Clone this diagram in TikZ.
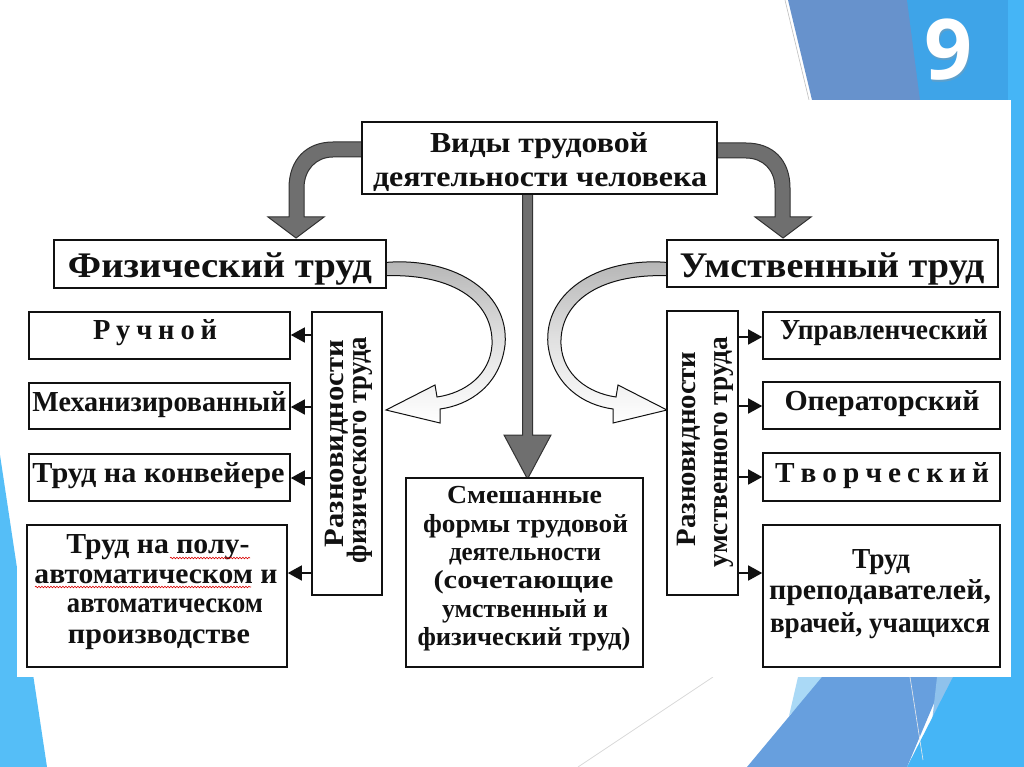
\documentclass[tikz,border=0pt]{standalone}
\usepackage{fontspec}
\setmainfont{Liberation Serif}
\newfontfamily\ninefont{Open Sans}
\usetikzlibrary{arrows.meta,decorations.pathmorphing}
\newcommand\W[2]{\resizebox{#1pt}{\height}{#2}}
\definecolor{dkblue}{HTML}{6792CC}
\definecolor{mdblue}{HTML}{3EA4E8}
\definecolor{cyanb}{HTML}{45B5F6}
\definecolor{slblue}{HTML}{55BEF7}
\definecolor{btblue}{HTML}{679FDE}
\definecolor{paleb}{HTML}{AAD9F6}
\definecolor{garrow}{HTML}{6F6F6F}
\definecolor{ink}{HTML}{111111}
\begin{document}
\begin{tikzpicture}[x=1pt,y=-1pt,
  box/.style={draw=ink, line width=1.6pt, fill=white, inner sep=0pt},
  txt/.style={inner sep=0pt, anchor=base, text=ink, font=\bfseries},
  t29/.style={txt, font=\bfseries\fontsize{29}{34}\selectfont},
  t36/.style={txt, font=\bfseries\fontsize{36}{40}\selectfont},
  t26/.style={txt, font=\bfseries\fontsize{26}{30}\selectfont},
  t28/.style={txt, font=\bfseries\fontsize{28}{32}\selectfont},
  sarr/.style={draw=ink, line width=1.5pt, -{Triangle[length=14pt,width=15pt]}},
  bigarrow/.style={fill=garrow, draw=black!80, line width=1pt},
  hollow/.style={draw=ink, line width=1pt, top color=black!30, bottom color=white, middle color=black!12},
  squig/.style={draw=red!85!black, line width=0.6pt, decorate, decoration={snake, amplitude=0.8pt, segment length=3pt}}
]
% background and slide decorations
\fill[white] (0,0) rectangle (1024,767);
\useasboundingbox (0,0) rectangle (1024,767);
\fill[dkblue] (788,0) -- (1024,0) -- (1024,100) -- (812,100) -- cycle;
\fill[mdblue] (907,0) -- (1024,0) -- (1024,100) -- (920,100) -- cycle;
\fill[cyanb] (1008,0) -- (1024,0) -- (1024,767) -- (1008,767) -- cycle;
\draw[black!25, line width=0.6pt] (785,0) -- (809,100);
\fill[slblue] (0,455) -- (47,767) -- (0,767) -- cycle;
\fill[paleb] (798,677) -- (826,677) -- (789,716) -- cycle;
\fill[btblue] (822,677) -- (945,677) -- (907,767) -- (747,767) -- cycle;
\fill[paleb!60!btblue] (937,677) -- (955,677) -- (932,722) -- cycle;
\fill[cyanb] (953,677) -- (1024,677) -- (1024,767) -- (907,767) -- cycle;
\draw[black!15, line width=0.8pt] (713,677) -- (578,767);
\draw[black!8, line width=0.6pt] (910,677) -- (923,760);
% inserted diagram area
\fill[white] (17,100) rectangle (1011,677);
% slide number
\node[inner sep=0pt, anchor=base, text=black!40, opacity=0.35, font=\ninefont\bfseries\fontsize{84}{84}\selectfont] (nineshadow) at (949.5,81.5) {9};
\node[inner sep=0pt, anchor=base, text=white, font=\ninefont\bfseries\fontsize{84}{84}\selectfont] (nine) at (948,80) {9};

% big gray arrows
\draw[bigarrow] (366,142) -- (333,142) .. controls (306,142) and (289,160) .. (289,188) -- (289,217) -- (268,217) -- (296,238) -- (324,217) -- (304,217) -- (304,188) .. controls (304,170) and (316,157) .. (333,157) -- (366,157) -- cycle;
\draw[bigarrow] (713,143) -- (746,143) .. controls (773,143) and (790,160) .. (790,188) -- (790,217) -- (811,217) -- (783,238) -- (755,217) -- (775,217) -- (775,188) .. controls (775,170) and (763,158) .. (746,158) -- (713,158) -- cycle;
\draw[bigarrow] (522.5,190) -- (532.5,190) -- (532.5,435) -- (551,435) -- (527.5,479) -- (504,435) -- (522.5,435) -- cycle;

% hollow curved arrows
\draw[hollow] (380,263) .. controls (450,255) and (510,290) .. (505,345) .. controls (500,385) and (470,405) .. (440,409) -- (440,423) -- (386,410) -- (435,385) -- (437,397) .. controls (465,393) and (490,375) .. (492,345) .. controls (494,300) and (450,272) .. (380,276) -- cycle;
\draw[hollow] (673,263) .. controls (603,255) and (543,290) .. (548,345) .. controls (553,385) and (583,405) .. (613,409) -- (613,423) -- (667,410) -- (618,385) -- (616,397) .. controls (588,393) and (563,375) .. (561,345) .. controls (559,300) and (603,272) .. (673,276) -- cycle;

% boxes
\node[box, minimum width=355pt, minimum height=72pt] (top) at (539.5,158) {};
\node[box, minimum width=332pt, minimum height=48pt] (phys) at (220,264) {};
\node[box, minimum width=331pt, minimum height=47pt] (ment) at (832.5,263.5) {};
\node[box, minimum width=70pt, minimum height=283pt] (vphys) at (347,453.5) {};
\node[box, minimum width=71pt, minimum height=284pt] (vment) at (702.5,453) {};
\node[box, minimum width=261pt, minimum height=47pt] (l1) at (159.5,335.5) {};
\node[box, minimum width=261pt, minimum height=46pt] (l2) at (159.5,406) {};
\node[box, minimum width=261pt, minimum height=47pt] (l3) at (159.5,477.5) {};
\node[box, minimum width=260pt, minimum height=142pt] (l4) at (157,596) {};
\node[box, minimum width=237pt, minimum height=47pt] (r1) at (881.5,335.5) {};
\node[box, minimum width=237pt, minimum height=47pt] (r2) at (881.5,405.5) {};
\node[box, minimum width=237pt, minimum height=48pt] (r3) at (881.5,477) {};
\node[box, minimum width=237pt, minimum height=142pt] (r4) at (881.5,596) {};
\node[box, minimum width=237pt, minimum height=189pt] (mix) at (524.5,572.5) {};

% small arrows
\coordinate (ya1) at (0,335);
\coordinate (ya2) at (0,407);
\coordinate (ya3) at (0,478);
\coordinate (ya4) at (0,573);
\coordinate (yb1) at (0,337);
\coordinate (yb2) at (0,406);
\coordinate (yb3) at (0,477);
\coordinate (yb4) at (0,573);
\draw[sarr] (vphys.west |- ya1) -- (l1.east |- ya1);
\draw[sarr] (vphys.west |- ya2) -- (l2.east |- ya2);
\draw[sarr] (vphys.west |- ya3) -- (l3.east |- ya3);
\draw[sarr] (vphys.west |- ya4) -- (l4.east |- ya4);
\draw[sarr] (vment.east |- yb1) -- (r1.west |- yb1);
\draw[sarr] (vment.east |- yb2) -- (r2.west |- yb2);
\draw[sarr] (vment.east |- yb3) -- (r3.west |- yb3);
\draw[sarr] (vment.east |- yb4) -- (r4.west |- yb4);

% texts
\node[t29] (tTop1) at (539,153) {\W{218}{Виды трудовой}};
\node[t29] (tTop2) at (540,187) {\W{334}{деятельности человека}};
\node[t36] (tPhys) at (220,277) {\W{304}{Физический труд}};
\node[t36] (tMent) at (832,277) {\W{305}{Умственный труд}};

\node[t29] (tl1) at (155,339) {\W{124}{Р\kern6ptу\kern6ptч\kern6ptн\kern6ptо\kern6ptй}};
\node[t29] (tl2) at (159.5,411) {\W{254}{Механизированный}};
\node[t29] (tl3) at (158.5,482) {\W{252}{Труд на конвейере}};
\node[t29] (tl4a) at (158,553) {\W{183}{Труд на полу-}};
\node[t29] (tl4b) at (156,583) {\W{243}{автоматическом и}};
\node[t29] (tl4c) at (165,612) {\W{196}{автоматическом}};
\node[t29] (tl4d) at (159,643) {\W{182}{производстве}};
\draw[squig] (170,558) -- (250,558);
\draw[squig] (35,587) -- (251,587);

\node[t29] (tr1) at (884,339) {\W{208}{Управленческий}};
\node[t29] (tr2) at (882,410) {\W{195}{Операторский}};
\node[t29] (tr3) at (882,482) {\W{214}{Т\kern6ptв\kern6ptо\kern6ptр\kern6ptч\kern6ptе\kern6ptс\kern6ptк\kern6ptи\kern6ptй}};
\node[t29] (tr4a) at (881,568) {\W{58}{Труд}};
\node[t29] (tr4b) at (880,599) {\W{222}{преподавателей,}};
\node[t29] (tr4c) at (880,632) {\W{220}{врачей, учащихся}};

\node[t26] (tm1) at (524.5,503) {\W{155}{Смешанные}};
\node[t26] (tm2) at (525.5,532) {\W{205}{формы трудовой}};
\node[t26] (tm3) at (525,560) {\W{152}{деятельности}};
\node[t26] (tm4) at (523.5,588) {\W{180}{(сочетающие}};
\node[t26] (tm5) at (525,617) {\W{166}{умственный и}};
\node[t26] (tm6) at (524,645) {\W{213}{физический труд)}};

\node[t28, rotate=90] (tv1) at (343,443.5) {\W{207}{Разновидности}};
\node[t28, rotate=90] (tv2) at (366,450) {\W{226}{физического труда}};
\node[t28, rotate=90] (tv3) at (695,449) {\W{195}{Разновидности}};
\node[t28, rotate=90] (tv4) at (727,452) {\W{230}{умственного труда}};
\end{tikzpicture}
\end{document}
